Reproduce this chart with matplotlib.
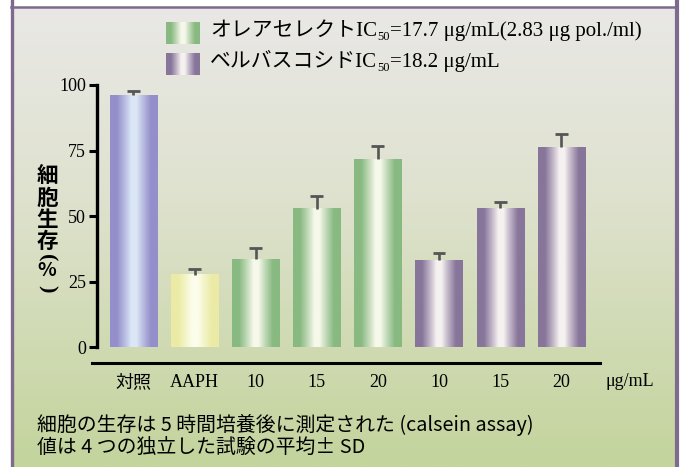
import numpy as np
import matplotlib
matplotlib.use("Agg")
import matplotlib.pyplot as plt
from matplotlib.lines import Line2D

# ---- data ----
categories = ["対照", "AAPH", "10", "15", "20", "10", "15", "20"]
values = [96.0, 27.5, 33.5, 52.8, 71.6, 33.2, 52.9, 76.2]
errors = [1.6, 2.2, 4.2, 4.8, 5.0, 2.6, 2.5, 5.0]
groups = ["ctrl", "aaph", "olea", "olea", "olea", "verb", "verb", "verb"]
yticks = [0, 25, 50, 75, 100]
legend_names = ["オレアセレクトIC", "ベルバスコシドIC"]
legend_tails = ["=17.7 μg/mL(2.83 μg pol./ml)", "=18.2 μg/mL"]
unit_label = "μg/mL"
ylabel_chars = ["細", "胞", "生", "存", "(", "%", ")"]
note_lines = ["細胞の生存は 5 時間培養後に測定された (calsein assay)",
              "値は 4 つの独立した試験の平均± SD"]

# colour (edge, centre) per group
palette = {
    "ctrl": ("#948fcb", "#dbe7f6"),
    "aaph": ("#ebeba6", "#fdfdec"),
    "olea": ("#88b981", "#f6f8ea"),
    "verb": ("#87759a", "#f6f1f1"),
}

W, H = 686, 467
fig = plt.figure(figsize=(W / 100, H / 100), dpi=100)

SERIF = ["Liberation Serif", "Noto Sans CJK JP"]
SANS = ["Noto Sans CJK JP", "DejaVu Sans"]


def hex2rgb(h):
    h = h.lstrip("#")
    return np.array([int(h[i:i + 2], 16) / 255 for i in (0, 2, 4)])


def bar_gradient(edge, centre, n=64):
    x = np.linspace(0, 1, n)
    t = np.abs(x - 0.5) * 2
    w = np.clip((t - 0.12) / 0.6, 0, 1) ** 0.9
    e, c = hex2rgb(edge), hex2rgb(centre)
    cols = c[None, :] * (1 - w[:, None]) + e[None, :] * w[:, None]
    return cols[None, :, :]


# ---- background (pixel coordinates) ----
bg = fig.add_axes([0, 0, 1, 1], zorder=-10)
bg.set_xlim(0, W)
bg.set_ylim(H, 0)
bg.axis("off")
ys = np.linspace(0, 1, 256)
top = hex2rgb("#e9e8e6")
mid = hex2rgb("#dfe2cf")
bot = hex2rgb("#c3d49c")
grad = np.where(ys[:, None] < 0.4,
                top[None, :] * (1 - ys[:, None] / 0.4) + mid[None, :] * (ys[:, None] / 0.4),
                mid[None, :] * (1 - (ys[:, None] - 0.4) / 0.6) + bot[None, :] * ((ys[:, None] - 0.4) / 0.6))
bg.imshow(grad[:, None, :], extent=(12, 676, H, 7), aspect="auto", zorder=0)
border = "#7d6a8c"
bg.add_line(Line2D([11.5, 11.5], [0, H], color=border, lw=2.4, zorder=2))
bg.add_line(Line2D([676.5, 676.5], [0, H], color=border, lw=3.0, zorder=2))
bg.add_line(Line2D([11, 677], [6.5, 6.5], color=border, lw=1.8, zorder=2))

# legend icons + text
leg_keys = ["olea", "verb"]
leg_y = [33, 64]
for key, yc, name, tail in zip(leg_keys, leg_y, legend_names, legend_tails):
    bg.imshow(bar_gradient(*palette[key]), extent=(166, 200, yc + 11, yc - 11),
              aspect="auto", zorder=1)
    t1 = bg.text(210, yc + 8, name, fontsize=15, family=SERIF, va="bottom", ha="left")
    t2 = bg.annotate("50", xy=(1, 0), xycoords=t1, xytext=(0, -1.5),
                     textcoords="offset points", fontsize=9, family=SERIF,
                     va="bottom", ha="left")
    bg.annotate(tail, xy=(1, 0), xycoords=(t2, t1), fontsize=15, family=SERIF,
                va="bottom", ha="left")

# footnotes
bg.text(37, 425, note_lines[0], fontsize=14.3, family=SANS, va="center", ha="left")
bg.text(37, 447, note_lines[1], fontsize=14.3, family=SANS, va="center", ha="left")

# y label (stacked vertically; brackets turned like vertical-writing forms)
label_y = [175, 198, 220, 242, 258, 271, 289]
for ch, yy in zip(ylabel_chars, label_y):
    if ch in "()":
        bg.text(47, yy, ch, fontsize=16, family=SERIF, fontweight="bold",
                va="center", ha="center", rotation=-90)
    else:
        size = 14 if ch == "%" else 15.5
        bg.text(47, yy, ch, fontsize=size, family=SANS, fontweight="bold",
                va="center", ha="center")

# ---- main axes ----
ax_l, ax_r, ax_t, ax_b = 97, 600, 85, 363
ax = fig.add_axes([ax_l / W, 1 - ax_b / H, (ax_r - ax_l) / W, (ax_b - ax_t) / H])
ax.patch.set_alpha(0)
x = np.arange(len(categories))

bars = ax.bar(x, values, width=0.77, color="none", edgecolor="none", zorder=2)
for b, g in zip(bars, groups):
    ax.imshow(bar_gradient(*palette[g]),
              extent=(b.get_x(), b.get_x() + b.get_width(), 0, b.get_height()),
              aspect="auto", zorder=2)
tops = np.array(values) + np.array(errors)
ax.vlines(x, values, tops, color="#555555", lw=1.9, zorder=3)
ax.hlines(tops, x - 0.105, x + 0.105, color="#555555", lw=2.0, zorder=3)
ax.set_xlim(-0.597, 7.635)
ax.set_ylim(-6.1, 100)

for s in ["top", "right", "bottom"]:
    ax.spines[s].set_visible(False)
ax.spines["left"].set_linewidth(2.4)
ax.spines["left"].set_bounds(0, 100)
ax.set_yticks(yticks)
ax.set_yticklabels([str(v) for v in yticks], fontsize=13, family=SERIF)
ax.tick_params(axis="y", length=6, width=2.2, pad=2)
ax.set_xticks(x)
ax.set_xticklabels(categories, fontsize=13, family=SERIF)
ax.tick_params(axis="x", length=0, pad=8)
ax.add_line(Line2D([-0.68, 7.635], [-6.1, -6.1], color="black", lw=2.2, clip_on=False))
ax.annotate(unit_label, xy=(7.72, -6.1), xycoords="data", xytext=(0, -7),
            textcoords="offset points", fontsize=13, family=SERIF,
            ha="left", va="top", annotation_clip=False)

fig.savefig("out.png", dpi=100)
